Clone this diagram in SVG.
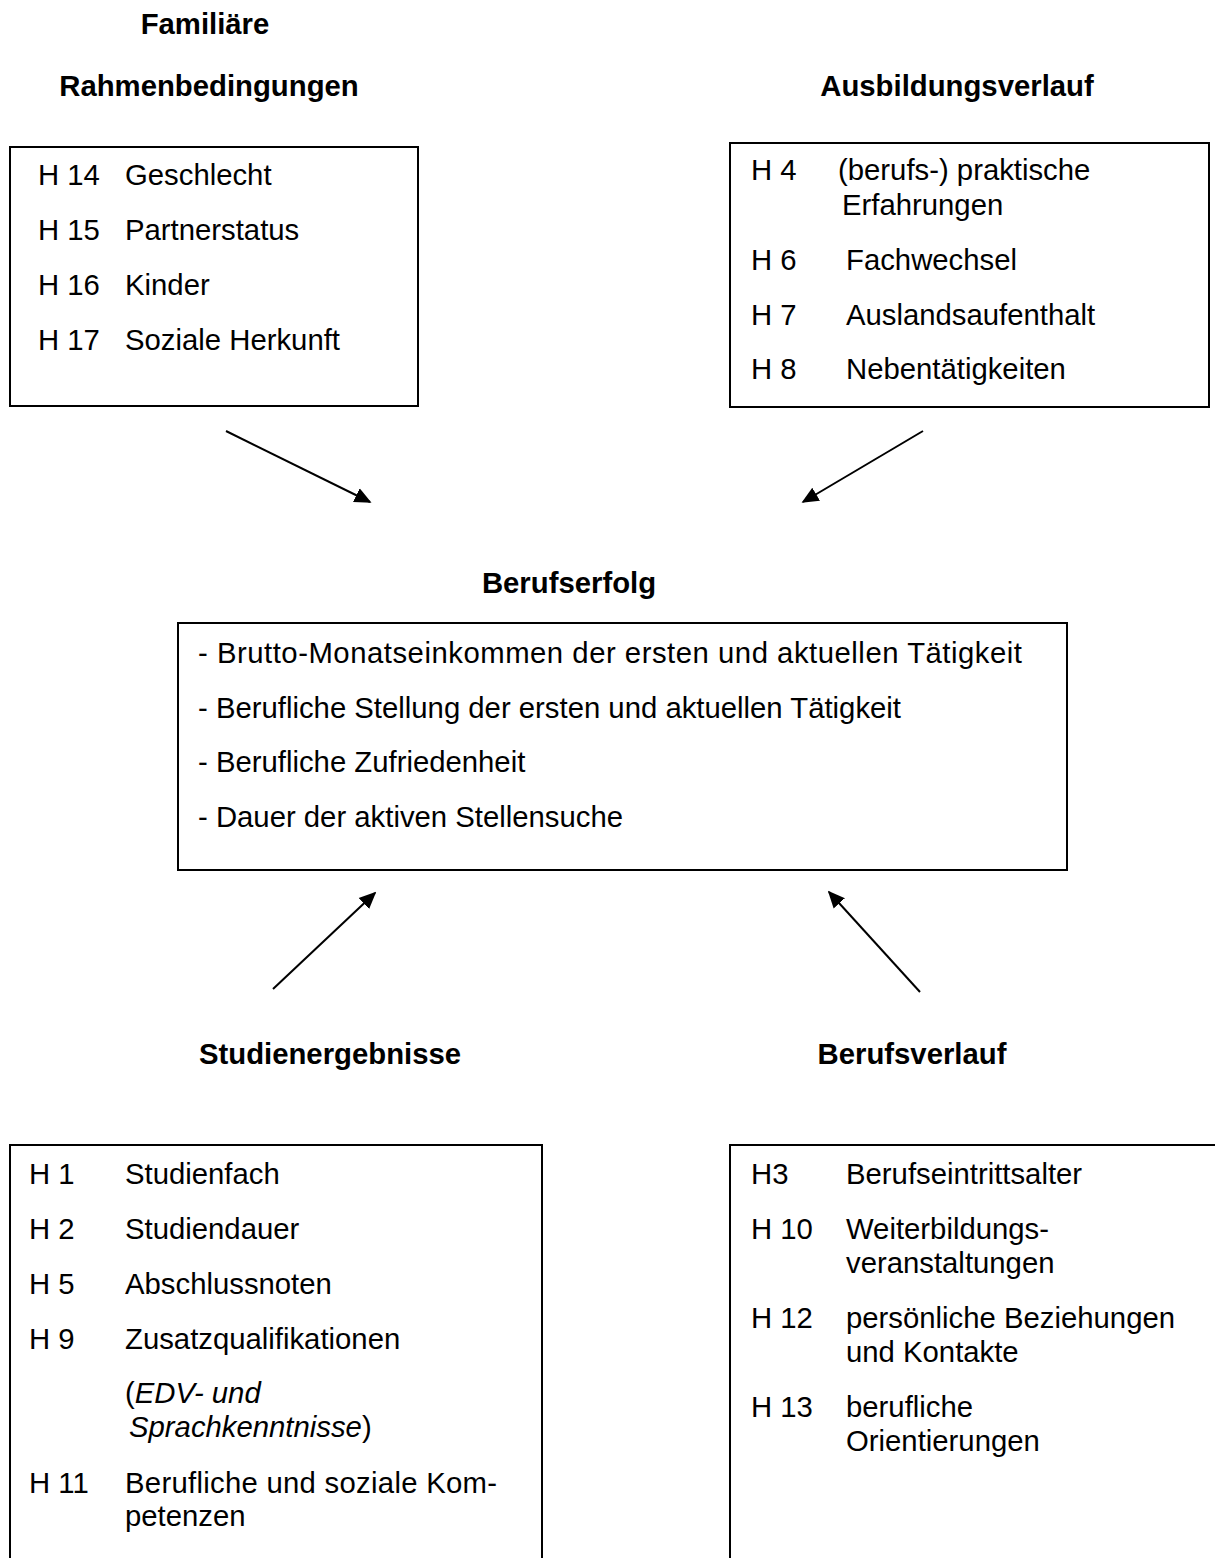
<svg xmlns="http://www.w3.org/2000/svg" width="1215" height="1558" viewBox="0 0 1215 1558">
<style>
text{font-family:"Liberation Sans",Arial,sans-serif;font-size:29.3px;fill:#000}
.h{font-weight:bold;text-anchor:middle}
.box{fill:#fff;stroke:#000;stroke-width:2}
.arr{stroke:#000;stroke-width:2;fill:none;marker-end:url(#ah)}
</style>
<defs>
<marker id="ah" viewBox="0 0 10 10" refX="9" refY="5" markerWidth="17" markerHeight="17" markerUnits="userSpaceOnUse" orient="auto">
<path d="M0,0.5 L10,5 L0,9.5 z" fill="#000"/>
</marker>
</defs>
<rect width="1215" height="1558" fill="#fff"/>
<g id="n-familiaere">
<text class="h" x="205" y="34">Familiäre</text>
<text class="h" x="209" y="96">Rahmenbedingungen</text>
<rect class="box" x="10" y="147" width="408" height="259"/>
<text x="38" y="185">H 14</text><text x="125" y="185">Geschlecht</text>
<text x="38" y="240">H 15</text><text x="125" y="240">Partnerstatus</text>
<text x="38" y="295">H 16</text><text x="125" y="295">Kinder</text>
<text x="38" y="350">H 17</text><text x="125" y="350">Soziale Herkunft</text>
</g>
<g id="n-ausbildung">
<text class="h" x="957" y="96">Ausbildungsverlauf</text>
<rect class="box" x="730" y="143" width="479" height="264"/>
<text x="751" y="180">H 4</text><text x="838" y="180">(berufs-) praktische</text>
<text x="842" y="215">Erfahrungen</text>
<text x="751" y="270">H 6</text><text x="846" y="270">Fachwechsel</text>
<text x="751" y="325">H 7</text><text x="846" y="325">Auslandsaufenthalt</text>
<text x="751" y="379">H 8</text><text x="846" y="379">Nebentätigkeiten</text>
</g>
<g id="n-berufserfolg">
<text class="h" x="569" y="593">Berufserfolg</text>
<rect class="box" x="178" y="623" width="889" height="247"/>
<text x="198" y="663" textLength="824" lengthAdjust="spacing">- Brutto-Monatseinkommen der ersten und aktuellen Tätigkeit</text>
<text x="198" y="718">- Berufliche Stellung der ersten und aktuellen Tätigkeit</text>
<text x="198" y="772">- Berufliche Zufriedenheit</text>
<text x="198" y="827">- Dauer der aktiven Stellensuche</text>
</g>
<g id="n-studium">
<text class="h" x="330" y="1064">Studienergebnisse</text>
<rect class="box" x="10" y="1145" width="532" height="430"/>
<text x="29" y="1184">H 1</text><text x="125" y="1184">Studienfach</text>
<text x="29" y="1239">H 2</text><text x="125" y="1239">Studiendauer</text>
<text x="29" y="1294">H 5</text><text x="125" y="1294">Abschlussnoten</text>
<text x="29" y="1349">H 9</text><text x="125" y="1349">Zusatzqualifikationen</text>
<text x="125" y="1403">(<tspan font-style="italic">EDV- und</tspan></text>
<text x="129" y="1437"><tspan font-style="italic">Sprachkenntnisse</tspan>)</text>
<text x="29" y="1493">H 11</text><text x="125" y="1493" textLength="372" lengthAdjust="spacing">Berufliche und soziale Kom-</text>
<text x="125" y="1526">petenzen</text>
</g>
<g id="n-berufsverlauf">
<text class="h" x="912" y="1064">Berufsverlauf</text>
<rect class="box" x="730" y="1145" width="520" height="430"/>
<text x="751" y="1184">H3</text><text x="846" y="1184">Berufseintrittsalter</text>
<text x="751" y="1239">H 10</text><text x="846" y="1239">Weiterbildungs-</text>
<text x="846" y="1273">veranstaltungen</text>
<text x="751" y="1328">H 12</text><text x="846" y="1328">persönliche Beziehungen</text>
<text x="846" y="1362">und Kontakte</text>
<text x="751" y="1417">H 13</text><text x="846" y="1417">berufliche</text>
<text x="846" y="1451">Orientierungen</text>
</g>
<g id="connectors">
<line class="arr" x1="226" y1="431" x2="370" y2="502"/>
<line class="arr" x1="923" y1="431" x2="803" y2="502"/>
<line class="arr" x1="273" y1="989" x2="375" y2="893"/>
<line class="arr" x1="920" y1="992" x2="829" y2="892"/>
</g>
</svg>
